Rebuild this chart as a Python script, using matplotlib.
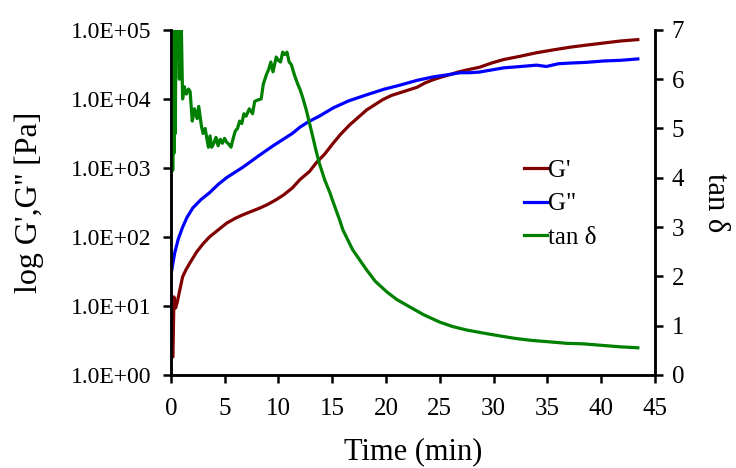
import numpy as np
import matplotlib
matplotlib.use("Agg")
import matplotlib.pyplot as plt
from matplotlib.ticker import FuncFormatter, FixedLocator, NullLocator

plt.rcParams['font.family'] = ['Liberation Serif', 'DejaVu Serif']

# Storage modulus G' (log10 Pa) versus time (min)
t_gp = [0.02, 0.1, 0.2, 0.3, 0.45, 0.6, 0.8, 1.1, 1.4, 1.77, 2.4, 3.0, 3.6, 4.4,
        5.2, 6.0, 6.7, 7.5, 8.3, 9.0, 9.8, 10.5, 11.3, 12.0, 12.9, 13.5, 14.3,
        15.1, 15.8, 16.6, 17.4, 18.2, 19.0, 19.7, 20.5, 21.3, 22.1, 22.9, 23.6,
        24.4, 25.2, 25.9, 26.7, 27.5, 28.7, 29.8, 30.9, 32.5, 34.0, 35.5, 37.1,
        38.6, 40.2, 41.8, 43.4]
log_gp = [0.92, 0.30, 0.26, 1.13, 0.97, 1.05, 1.20, 1.42, 1.52, 1.62, 1.78, 1.90,
          2.00, 2.10, 2.20, 2.27, 2.32, 2.37, 2.42, 2.47, 2.54, 2.61, 2.71, 2.83,
          2.95, 3.07, 3.20, 3.36, 3.49, 3.62, 3.73, 3.84, 3.92, 3.99, 4.05, 4.09,
          4.13, 4.17, 4.23, 4.28, 4.32, 4.35, 4.39, 4.42, 4.46, 4.52, 4.57, 4.62,
          4.67, 4.71, 4.75, 4.78, 4.81, 4.84, 4.86]

# Loss modulus G'' (log10 Pa) versus time (min)
t_gpp = [0.05, 0.2, 0.37, 0.7, 1.1, 1.5, 2.05, 2.8, 3.6, 4.4, 5.2, 6.0, 6.7, 7.5,
         8.3, 9.5, 10.5, 11.3, 12.0, 12.8, 13.8, 15.1, 16.5, 18.2, 19.8, 21.3,
         22.9, 24.4, 25.7, 26.9, 27.8, 28.7, 29.8, 30.9, 32.5, 34.0, 34.9, 36.0,
         37.1, 38.6, 40.2, 41.8, 43.4]
log_gpp = [1.48, 1.62, 1.77, 1.97, 2.14, 2.28, 2.42, 2.54, 2.64, 2.76, 2.86, 2.94,
           3.01, 3.10, 3.19, 3.32, 3.42, 3.50, 3.59, 3.67, 3.75, 3.87, 3.97, 4.06,
           4.14, 4.20, 4.27, 4.32, 4.35, 4.38, 4.38, 4.39, 4.42, 4.45, 4.47, 4.49,
           4.47, 4.51, 4.52, 4.53, 4.55, 4.56, 4.58]

# Loss tangent versus time (min); early readings exceed the axis top
t_tan = [0.02, 0.06, 0.1, 0.14, 0.18, 0.24, 0.3, 0.36, 0.42, 0.5, 0.6, 0.7, 0.8,
         0.86, 0.95, 1.02, 1.1, 1.25, 1.45,
         1.65, 1.8, 2.0, 2.2, 2.45, 2.6, 2.85, 3.0, 3.2, 3.35, 3.5, 3.65, 3.8,
         4.0, 4.2, 4.4, 4.6, 4.8, 5.0, 5.2, 5.4, 5.6, 5.8, 6.0, 6.2, 6.4, 6.6,
         6.8, 7.0, 7.3, 7.6, 7.8, 8.1, 8.4, 8.6, 8.9, 9.1, 9.3, 9.5, 9.8, 10.0,
         10.2, 10.4, 10.6, 10.8, 11.0, 11.2, 11.5, 11.8, 12.0, 12.3, 12.6, 12.9,
         13.2, 13.5, 13.8, 14.3, 14.8, 15.1, 15.7, 16.0, 16.9, 18.2, 19.0, 20.1,
         21.0, 22.2, 23.5, 25.0, 26.2, 27.5, 29.0, 30.6, 32.0, 33.5, 35.2, 36.8,
         38.3, 40.0, 41.7, 43.4]
tan_delta = [4.1, 7.5, 4.3, 7.5, 4.15, 7.5, 4.5, 7.5, 4.9, 7.5, 7.5, 7.5, 6.0,
             7.5, 7.5, 6.6, 5.6, 5.85, 5.7,
             5.8, 5.75, 5.15, 5.4, 5.2, 5.45, 5.05, 4.9, 5.0, 4.8, 4.62, 4.85, 4.62,
             4.7, 4.82, 4.65, 4.78, 4.7, 4.8, 4.72, 4.68, 4.62, 4.8, 4.95, 5.0,
             5.15, 5.1, 5.3, 5.25, 5.4, 5.3, 5.55, 5.58, 5.6, 5.9, 6.1, 6.2, 6.35,
             6.15, 6.45, 6.38, 6.35, 6.55, 6.5, 6.55, 6.35, 6.3, 6.08, 5.9, 5.8,
             5.6, 5.37, 5.1, 4.83, 4.55, 4.3, 3.96, 3.69, 3.5, 3.14, 2.94, 2.54,
             2.13, 1.9, 1.68, 1.53, 1.38, 1.22, 1.07, 0.98, 0.91, 0.85, 0.79, 0.74,
             0.70, 0.67, 0.64, 0.63, 0.60, 0.57, 0.55]

x_ticks = [0, 5, 10, 15, 20, 25, 30, 35, 40, 45]
left_ticks = [1e0, 1e1, 1e2, 1e3, 1e4, 1e5]
right_ticks = [0, 1, 2, 3, 4, 5, 6, 7]

c_gp = '#800000'
c_gpp = '#0000FF'
c_tan = '#008000'
lw = 2.3

fig = plt.figure(figsize=(7.36, 4.68), dpi=100)
ax = fig.add_axes([0.232, 0.199, 0.658, 0.737])
ax2 = ax.twinx()

g1, = ax.plot(t_gp, 10 ** np.array(log_gp), color=c_gp, lw=lw, label="G'")
g2, = ax.plot(t_gpp, 10 ** np.array(log_gpp), color=c_gpp, lw=lw, label='G"')
g3, = ax2.plot(t_tan, tan_delta, color=c_tan, lw=lw, label='tan \u03b4')

ax.set_yscale('log')
ax.set_ylim(1e0, 1e5)
ax.set_xlim(0, 45)
ax2.set_ylim(0, 7)

ax.xaxis.set_major_locator(FixedLocator(x_ticks))
ax.yaxis.set_major_locator(FixedLocator(left_ticks))
ax.yaxis.set_minor_locator(NullLocator())
ax.yaxis.set_major_formatter(FuncFormatter(lambda v, p: f"{v:.1E}"))
ax2.yaxis.set_major_locator(FixedLocator(right_ticks))

for a in (ax, ax2):
    a.spines['top'].set_visible(False)
    for s in ('left', 'right', 'bottom'):
        a.spines[s].set_linewidth(1.8)
        a.spines[s].set_color('black')

ax.tick_params(axis='x', direction='out', length=6, width=1.8, labelsize=18, pad=11)
ax.tick_params(axis='y', direction='out', length=6, width=1.8, labelsize=17, pad=8)
ax2.tick_params(axis='y', direction='out', length=6, width=1.8, labelsize=18, pad=6)

ax.set_xlabel('Time (min)', fontsize=22, labelpad=12)
ax.set_ylabel("log G',G'' [Pa]", fontsize=23, labelpad=19)
ax2.set_ylabel('tan \u03b4', fontsize=22, rotation=270, labelpad=33)

leg = ax2.legend(handles=[g1, g2, g3], loc='upper left',
                 bbox_to_anchor=(0.730, 0.625), frameon=False, fontsize=18,
                 handlelength=0.9, handletextpad=0.05, labelspacing=0.44,
                 borderpad=0, borderaxespad=0)

fig.savefig('out.png', dpi=100)
